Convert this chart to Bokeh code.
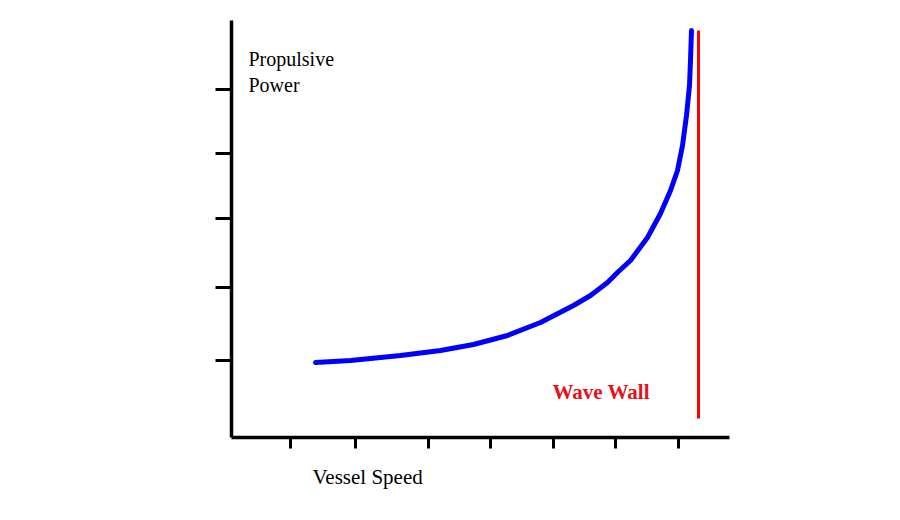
from bokeh.plotting import figure
from bokeh.models import Label, Range1d, FixedTicker, Title
from bokeh.embed import file_html
from bokeh.resources import INLINE

# Vessel speed (arbitrary units) and propulsive power (arbitrary units)
speed = [84, 119, 169, 209, 242, 276, 309, 342, 359, 376, 387, 399, 416, 429, 439, 446, 451, 455, 458, 459, 460]
power = [75, 77, 82, 87, 93, 102, 115, 132, 142, 155, 166, 177, 200, 224, 247, 267, 292, 322, 352, 377, 407]

wave_wall_speed = 467
wave_wall_power = [19, 407]

x_ticks = [59, 124, 197, 259, 322, 384, 447]
y_ticks = [77, 150, 219, 284, 348]

p = figure(width=900, height=520, output_backend="svg", toolbar_location=None,
           x_range=Range1d(0, 498), y_range=Range1d(0, 417),
           min_border_left=231, min_border_right=171, min_border_top=20, min_border_bottom=83)
p.outline_line_color = None
p.xgrid.visible = False
p.ygrid.visible = False
p.background_fill_color = "white"
p.border_fill_color = "white"

for ax, ticks, out in ((p.xaxis, x_ticks, 11), (p.yaxis, y_ticks, 16)):
    ax.ticker = FixedTicker(ticks=ticks)
    ax.axis_line_color = "black"
    ax.axis_line_width = 3.5
    ax.major_tick_line_color = "black"
    ax.major_tick_line_width = 3
    ax.major_tick_out = out
    ax.major_tick_in = 0
    ax.minor_tick_line_color = None
    ax.major_label_text_font_size = "0px"
    ax.major_label_text_color = None

p.line(speed, power, line_color="#0000ff", line_width=5, line_join="round", line_cap="round")
p.line([wave_wall_speed, wave_wall_speed], wave_wall_power, line_color="#ff0000", line_width=3)

font = "Liberation Serif"
p.add_layout(Label(x=17, y=379, text="Propulsive", text_font=font, text_font_size="20px",
                   text_color="black", text_baseline="alphabetic"))
p.add_layout(Label(x=17, y=353, text="Power", text_font=font, text_font_size="20px",
                   text_color="black", text_baseline="alphabetic"))
p.add_layout(Label(x=321, y=46, text="Wave Wall", text_font=font, text_font_size="21px",
                   text_font_style="bold", text_color="#e8101a", text_baseline="alphabetic"))
p.add_layout(Title(text="Vessel Speed", align="left", offset=81, standoff=28,
                   text_font=font, text_font_size="21px", text_font_style="normal",
                   text_color="black"), "below")

open("out.html", "w").write(file_html(p, INLINE))
